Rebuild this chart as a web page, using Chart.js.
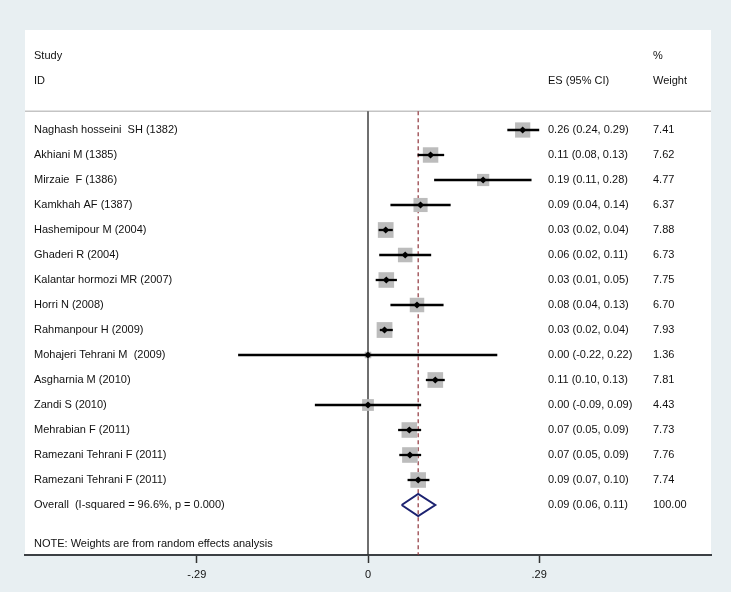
<!DOCTYPE html>
<html>
<head>
<meta charset="utf-8">
<script src="https://cdn.jsdelivr.net/npm/chart.js"></script>
<style>
  html, body { margin: 0; padding: 0; background: #e8eff2; }
  #wrap { width: 731px; height: 592px; }
</style>
</head>
<body>
<div id="wrap"><canvas id="forest"></canvas></div>
<script>
// dados
const studies = [
  'Naghash hosseini  SH (1382)', 'Akhiani M (1385)', 'Mirzaie  F (1386)', 'Kamkhah AF (1387)',
  'Hashemipour M (2004)', 'Ghaderi R (2004)', 'Kalantar hormozi MR (2007)', 'Horri N (2008)',
  'Rahmanpour H (2009)', 'Mohajeri Tehrani M  (2009)', 'Asgharnia M (2010)', 'Zandi S (2010)',
  'Mehrabian F (2011)', 'Ramezani Tehrani F (2011)', 'Ramezani Tehrani F (2011)'
];
const es = [0.262, 0.106, 0.195, 0.089, 0.030, 0.063, 0.031, 0.083, 0.028, 0.000, 0.114, 0.000, 0.070, 0.071, 0.085];
const lo = [0.236, 0.084, 0.112, 0.038, 0.018, 0.019, 0.013, 0.038, 0.020, -0.220, 0.098, -0.090, 0.051, 0.053, 0.067];
const hi = [0.290, 0.129, 0.277, 0.140, 0.042, 0.107, 0.049, 0.128, 0.042, 0.219, 0.130, 0.090, 0.090, 0.090, 0.104];
const weights = [7.41, 7.62, 4.77, 6.37, 7.88, 6.73, 7.75, 6.70, 7.93, 1.36, 7.81, 4.43, 7.73, 7.76, 7.74];
const esLabels = [
  '0.26 (0.24, 0.29)', '0.11 (0.08, 0.13)', '0.19 (0.11, 0.28)', '0.09 (0.04, 0.14)',
  '0.03 (0.02, 0.04)', '0.06 (0.02, 0.11)', '0.03 (0.01, 0.05)', '0.08 (0.04, 0.13)',
  '0.03 (0.02, 0.04)', '0.00 (-0.22, 0.22)', '0.11 (0.10, 0.13)', '0.00 (-0.09, 0.09)',
  '0.07 (0.05, 0.09)', '0.07 (0.05, 0.09)', '0.09 (0.07, 0.10)'
];
const weightLabels = ['7.41', '7.62', '4.77', '6.37', '7.88', '6.73', '7.75', '6.70', '7.93', '1.36', '7.81', '4.43', '7.73', '7.76', '7.74'];

const overallLabel = 'Overall  (I-squared = 96.6%, p = 0.000)';
const overallES = 0.085;
const overallLo = 0.057;
const overallHi = 0.114;
const overallText = '0.09 (0.06, 0.11)';
const overallWeight = '100.00';
const noteText = 'NOTE: Weights are from random effects analysis';

const xTicks = [-0.29, 0, 0.29];
const xTickLabels = ['-.29', '0', '.29'];

const FONT = '"Liberation Sans", Arial, sans-serif';
const TXT = '#111';
const overallRow = studies.length + 1;
const topRule = 0.25;

// linhas dos intervalos de confiança
const ciSets = studies.map((s, i) => ({
  data: [{ x: lo[i], y: i + 1 }, { x: hi[i], y: i + 1 }],
  showLine: true, borderColor: '#000', borderWidth: 2.3,
  pointRadius: 0, order: 2
}));

const datasets = [
  // linha cinza do topo
  { data: [{ x: -0.581, y: topRule }, { x: 0.581, y: topRule }], showLine: true,
    borderColor: '#c4c4c4', borderWidth: 1.5, pointRadius: 0, order: 5 },
  // linha do zero
  { data: [{ x: 0, y: topRule }, { x: 0, y: 18 }], showLine: true,
    borderColor: '#333', borderWidth: 1.4, pointRadius: 0, order: 4 },
  // efeito global tracejado
  { data: [{ x: overallES, y: topRule }, { x: overallES, y: 18 }], showLine: true,
    borderColor: '#90353b', borderWidth: 1.2, borderDash: [4, 3], pointRadius: 0, order: 4 },
  // quadrados de peso
  { data: es.map((v, i) => ({ x: v, y: i + 1 })), pointStyle: 'rect',
    pointRadius: ctx => 5.6 * Math.sqrt(weights[ctx.dataIndex] || 0) / (2 * Math.SQRT1_2),
    backgroundColor: '#bcbcbc', borderWidth: 0, order: 3 },
  ...ciSets,
  // estimativas pontuais
  { data: es.map((v, i) => ({ x: v, y: i + 1 })), pointStyle: 'rectRot',
    pointRadius: 3.6, backgroundColor: '#000', borderColor: '#000', borderWidth: 0, order: 1 },
  // losango global
  { data: [
      { x: overallLo, y: overallRow }, { x: overallES, y: overallRow - 0.44 },
      { x: overallHi, y: overallRow }, { x: overallES, y: overallRow + 0.44 },
      { x: overallLo, y: overallRow }
    ], showLine: true, borderColor: '#1c2270', borderWidth: 2, pointRadius: 0, order: 1 }
];

const textPlugin = {
  id: 'forestText',
  beforeDraw(chart) {
    const { ctx, chartArea: a } = chart;
    ctx.save();
    ctx.fillStyle = '#fff';
    ctx.fillRect(a.left, a.top, a.right - a.left, a.bottom - a.top);
    ctx.restore();
  },
  afterDraw(chart) {
    const { ctx, chartArea: a } = chart;
    const y = chart.scales.y;
    const xStudy = a.left + 9, xES = a.left + 523, xW = a.left + 628;
    ctx.save();
    ctx.font = '11px ' + FONT;
    ctx.fillStyle = TXT;
    ctx.textBaseline = 'middle';
    ctx.textAlign = 'left';
    ctx.fillText('Study', xStudy, y.getPixelForValue(-1.95));
    ctx.fillText('ID', xStudy, y.getPixelForValue(-0.98));
    ctx.fillText('ES (95% CI)', xES, y.getPixelForValue(-0.98));
    ctx.fillText('%', xW, y.getPixelForValue(-1.95));
    ctx.fillText('Weight', xW, y.getPixelForValue(-0.98));
    studies.forEach((s, i) => {
      const py = y.getPixelForValue(i + 1);
      ctx.fillText(s, xStudy, py);
      ctx.fillText(esLabels[i], xES, py);
      ctx.fillText(weightLabels[i], xW, py);
    });
    const oy = y.getPixelForValue(overallRow);
    ctx.fillText(overallLabel, xStudy, oy);
    ctx.fillText(overallText, xES, oy);
    ctx.fillText(overallWeight, xW, oy);
    ctx.fillText(noteText, xStudy, y.getPixelForValue(17.56));
    ctx.restore();
  }
};

new Chart(document.getElementById('forest'), {
  type: 'scatter',
  data: { datasets },
  options: {
    responsive: true,
    maintainAspectRatio: false,
    animation: false,
    events: [],
    layout: { padding: { left: 25, right: 20, top: 30, bottom: 0 } },
    plugins: { legend: { display: false }, tooltip: { enabled: false } },
    scales: {
      x: {
        type: 'linear', min: -0.581, max: 0.581,
        afterBuildTicks: s => { s.ticks = xTicks.map(v => ({ value: v })); },
        afterFit: s => { s.height = 37; },
        ticks: {
          callback: (v, i) => xTickLabels[i],
          color: TXT, font: { family: FONT, size: 11 }, padding: 5,
          maxRotation: 0, autoSkip: false
        },
        grid: { drawOnChartArea: false, drawTicks: true, tickLength: 8, tickColor: '#333', tickWidth: 1.5 },
        border: { display: true, color: '#3c4044', width: 2 }
      },
      y: { type: 'linear', reverse: true, min: -3, max: 18, display: false }
    }
  },
  plugins: [textPlugin]
});
</script>
</body>
</html>
